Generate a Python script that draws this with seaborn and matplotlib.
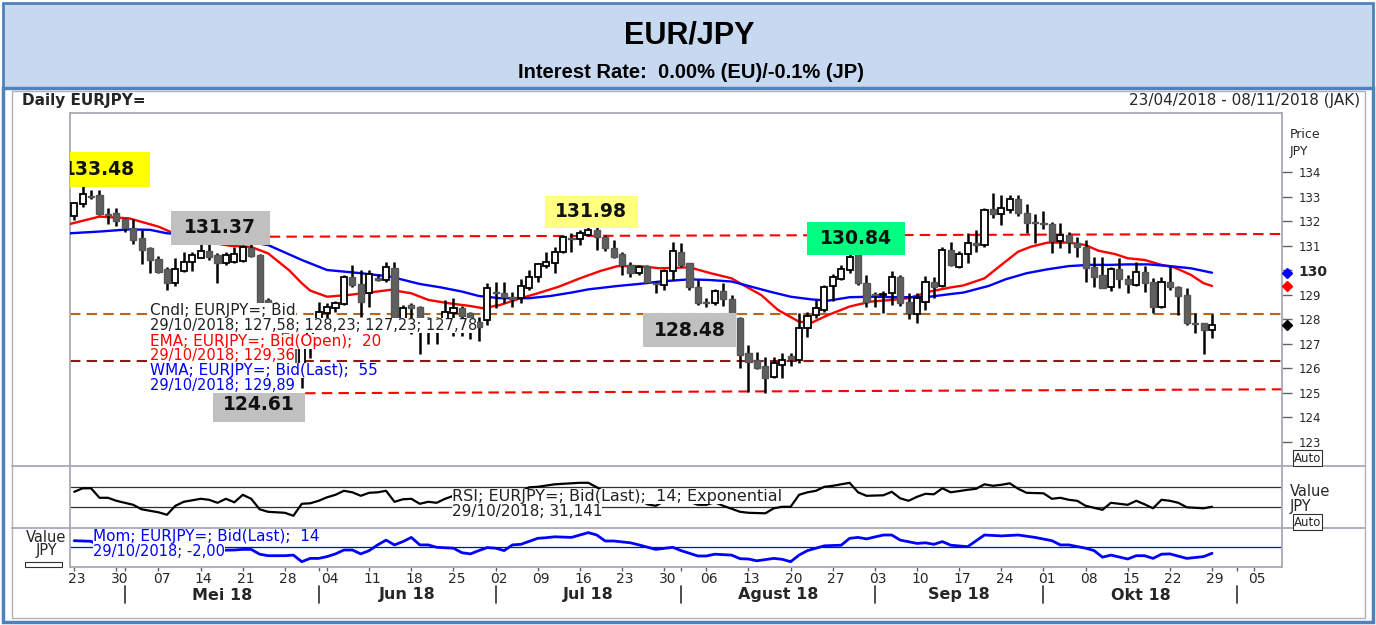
import numpy as np
import pandas as pd
import matplotlib
matplotlib.use('Agg')
import matplotlib.pyplot as plt
import matplotlib.transforms as mtransforms
from matplotlib.patches import Rectangle
from matplotlib.lines import Line2D
import seaborn as sns

W, H = 1376, 625

# daily candles, trading-day index 0 = Monday 23/04/2018
opens = [132.22, 132.71, 133.05, 133.06, 132.30, 132.33, 132.08, 131.74, 131.30, 130.90,
         130.45, 130.04, 129.47, 129.98, 130.35, 130.49, 130.80, 130.62, 130.31, 130.35,
         130.39, 130.90, 130.62, 128.79, 128.60, 127.90, 127.20, 125.90, 126.90, 127.60,
         128.24, 128.45, 128.63, 129.74, 129.44, 129.09, 129.70, 129.60, 130.08, 127.95,
         128.60, 128.50, 127.90, 127.50, 127.90, 128.27, 128.47, 128.24, 127.90, 127.97,
         129.13, 129.06, 128.92, 128.86, 129.26, 129.71, 130.17, 130.28, 130.76, 131.32,
         131.26, 131.44, 131.65, 131.35, 130.90, 130.66, 130.22, 129.90, 130.17, 129.50,
         129.40, 129.98, 130.76, 130.28, 129.30, 128.70, 128.68, 129.17, 128.81, 128.04,
         126.64, 126.34, 126.09, 125.63, 126.13, 126.50, 126.34, 127.63, 128.18, 128.38,
         129.36, 129.64, 130.01, 130.66, 129.49, 129.03, 129.00, 129.09, 129.71, 128.72,
         128.22, 128.70, 129.54, 129.36, 130.83, 130.12, 130.66, 131.13, 131.03, 132.49,
         132.28, 132.46, 132.90, 132.33, 131.96, 131.94, 131.89, 131.21, 131.44, 131.10,
         130.96, 130.12, 129.81, 129.30, 130.04, 129.63, 129.40, 129.92, 129.54, 128.49,
         129.54, 129.33, 128.99, 127.86, 127.84, 127.58]
highs = [132.80, 133.45, 133.28, 133.28, 132.53, 132.53, 132.12, 132.08, 131.65, 130.96,
         130.58, 130.12, 130.49, 130.76, 130.76, 131.10, 131.10, 130.69, 130.76, 130.96,
         131.03, 131.10, 130.66, 128.85, 128.70, 128.00, 127.30, 127.20, 127.70, 128.70,
         128.68, 128.75, 129.80, 130.22, 130.01, 130.01, 129.85, 130.35, 130.35, 128.60,
         128.65, 128.55, 128.10, 128.10, 128.80, 128.86, 128.55, 128.30, 128.10, 129.47,
         129.54, 129.54, 129.10, 129.63, 130.01, 130.31, 130.76, 130.96, 131.44, 131.51,
         131.65, 131.90, 131.98, 131.44, 131.24, 130.76, 130.35, 130.22, 130.22, 129.55,
         130.04, 131.17, 131.13, 130.30, 129.60, 128.85, 129.22, 129.47, 129.00, 128.11,
         126.95, 126.65, 126.47, 126.47, 126.61, 126.61, 128.24, 128.31, 128.79, 129.40,
         129.85, 130.22, 130.84, 130.76, 129.81, 129.13, 129.17, 129.98, 129.80, 129.06,
         129.06, 129.77, 129.74, 130.96, 131.17, 130.80, 131.51, 131.65, 132.53, 133.14,
         133.07, 133.07, 133.07, 132.71, 132.30, 132.43, 131.98, 131.94, 131.55, 131.34,
         131.24, 130.53, 130.53, 130.12, 130.49, 129.81, 130.35, 130.18, 129.68, 129.71,
         130.17, 129.36, 129.26, 128.24, 127.86, 128.23]
lows = [132.05, 132.57, 132.90, 132.26, 131.89, 131.82, 131.58, 131.07, 130.26, 129.88,
        129.88, 129.20, 129.36, 129.94, 129.98, 130.49, 130.42, 129.47, 130.22, 130.28,
        130.35, 130.56, 128.65, 128.20, 127.70, 126.90, 124.61, 125.20, 126.40, 127.50,
        127.97, 128.30, 128.60, 129.33, 128.11, 128.52, 129.55, 129.54, 127.80, 127.50,
        127.40, 126.60, 127.00, 127.00, 127.50, 127.30, 127.30, 127.20, 127.10, 127.77,
        128.45, 128.65, 128.50, 128.65, 129.20, 129.54, 130.08, 129.88, 130.69, 130.76,
        131.03, 131.40, 130.83, 130.80, 130.49, 129.81, 129.74, 129.80, 129.47, 129.09,
        129.20, 129.60, 130.12, 129.20, 128.60, 128.48, 128.60, 128.54, 128.00, 126.00,
        125.05, 125.95, 124.98, 125.59, 125.59, 126.10, 126.20, 127.29, 128.04, 128.31,
        128.76, 129.60, 129.90, 129.40, 128.52, 128.52, 128.27, 128.58, 128.55, 128.00,
        127.84, 128.38, 128.85, 129.30, 130.18, 130.08, 130.28, 130.76, 130.94, 132.12,
        131.85, 132.35, 132.22, 131.54, 131.13, 131.70, 130.69, 130.90, 130.69, 130.55,
        129.54, 129.30, 129.26, 129.17, 129.26, 129.09, 129.36, 129.13, 128.27, 128.45,
        129.20, 128.17, 127.77, 127.45, 126.58, 127.23]
closes = [132.73, 133.11, 133.01, 132.30, 132.26, 132.03, 131.71, 131.24, 130.83, 130.42,
          129.94, 129.47, 130.04, 130.35, 130.62, 130.80, 130.56, 130.31, 130.62, 130.66,
          130.96, 130.58, 128.68, 128.68, 127.90, 127.20, 125.90, 126.90, 127.50, 128.30,
          128.49, 128.68, 129.74, 129.40, 128.72, 129.85, 129.62, 130.12, 127.95, 128.45,
          128.45, 127.90, 127.60, 127.90, 128.30, 128.47, 128.13, 128.00, 127.70, 129.26,
          129.06, 128.92, 128.82, 129.36, 129.71, 130.26, 130.35, 130.76, 131.35, 131.28,
          131.51, 131.65, 131.35, 130.90, 130.56, 130.22, 129.88, 130.12, 129.54, 129.45,
          129.98, 130.80, 130.22, 129.30, 128.68, 128.66, 129.17, 128.81, 128.04, 126.54,
          126.27, 126.00, 125.59, 126.20, 126.34, 126.37, 127.63, 128.14, 128.45, 129.30,
          129.71, 130.04, 130.56, 129.49, 128.72, 129.00, 129.05, 129.71, 128.68, 128.27,
          128.86, 129.54, 129.33, 130.83, 130.22, 130.66, 131.10, 131.03, 132.46, 132.28,
          132.53, 132.90, 132.33, 131.92, 131.92, 131.88, 131.21, 131.44, 131.17, 130.96,
          130.08, 129.74, 129.26, 130.04, 129.63, 129.44, 129.92, 129.50, 128.49, 129.54,
          129.33, 128.95, 127.84, 127.82, 127.56, 127.78]

# EMA(20, open) and WMA(55)
ema_day = [-0.5, 3, 6.5, 10, 12, 15, 18.5, 21, 23, 25.5, 27, 28, 30, 32.5, 35, 37.5, 40, 42,
           44.5, 47, 48.5, 50.5, 53, 55, 57.5, 60, 62.5, 64.5, 67, 69.5, 73, 75.5, 78, 79,
           81.5, 83.5, 86, 87.5, 89.5, 92, 94.5, 97, 99, 101.5, 104, 105.5, 108, 110, 112,
           113.5, 115.5, 118, 120, 121.5, 123.5, 125, 127, 129, 130.5, 132.5, 134, 135]
ema_val = [131.89, 132.19, 132.12, 131.78, 131.48, 131.20, 131.00, 130.95, 130.69, 130.00,
           129.47, 129.17, 128.92, 128.99, 129.09, 129.20, 129.06, 128.79, 128.65, 128.54,
           128.45, 128.58, 128.86, 129.06, 129.33, 129.67, 129.98, 130.17, 130.17, 130.08,
           130.12, 129.88, 129.67, 129.47, 128.99, 128.38, 127.90, 127.86, 128.18, 128.52,
           128.72, 128.79, 128.86, 129.13, 129.30, 129.38, 129.67, 130.22, 130.76, 130.96,
           131.13, 131.13, 131.03, 130.80, 130.66, 130.49, 130.42, 130.22, 130.12, 129.81,
           129.47, 129.36]
wma_day = [-0.5, 3, 6.5, 9, 11, 15, 19, 23, 27, 30, 34, 37.5, 41, 43.5, 46, 48, 50.5, 54,
           56.5, 59, 61, 64.5, 67, 69.5, 73, 75.5, 78, 80, 82.5, 85, 87.5, 89.5, 92, 94.5,
           97, 99, 101.5, 104, 105.5, 108.5, 110.5, 113, 115.5, 118, 120.5, 123, 125, 127.5,
           130, 132.5, 135]
wma_val = [131.51, 131.58, 131.67, 131.65, 131.51, 131.40, 131.25, 131.03, 130.42, 130.01,
           129.88, 129.74, 129.44, 129.30, 129.13, 128.95, 128.86, 128.86, 128.95, 129.09,
           129.22, 129.36, 129.44, 129.54, 129.63, 129.60, 129.54, 129.36, 129.13, 128.92,
           128.81, 128.76, 128.90, 128.92, 128.90, 128.90, 128.92, 129.03, 129.09, 129.36,
           129.63, 129.88, 130.04, 130.17, 130.22, 130.22, 130.24, 130.24, 130.17, 130.08,
           129.90]

rsi_day = [0, 1, 2, 3, 4, 5, 7, 8, 10, 11, 12, 13, 15, 16, 17, 18, 19, 20, 21, 22, 23, 25,
           26, 27, 28, 29, 30, 31, 32, 33, 34, 35, 36, 37, 38, 39, 40, 41, 42, 43, 44, 45,
           46, 47, 48, 49, 50, 51, 52, 53, 54, 55, 57, 58, 60, 61, 62, 63, 64, 65, 66, 67,
           68, 69, 70, 71, 72, 73, 74, 75, 76, 77, 78, 79, 80, 82, 83, 84, 85, 86, 87, 88,
           89, 90, 92, 93, 94, 96, 97, 98, 99, 100, 101, 102, 103, 104, 106, 107, 108, 109,
           110, 111, 112, 113, 115, 116, 117, 118, 119, 120, 122, 123, 125, 126, 127, 128,
           129, 130, 131, 132, 134, 135]
rsi_val = [61, 68, 68, 49, 49, 43, 35, 26, 20, 15, 33, 41, 47, 45, 39, 47, 40, 55, 47, 26,
           21, 19, 13, 37, 38, 43, 50, 55, 63, 60, 53, 59, 60, 63, 41, 46, 47, 37, 41, 39,
           47, 53, 52, 50, 47, 60, 58, 56, 55, 62, 70, 71, 76, 77, 79, 79, 70, 60, 54, 48,
           44, 46, 36, 33, 42, 52, 47, 41, 35, 35, 40, 33, 27, 21, 19, 18, 28, 31, 31, 55,
           60, 63, 71, 73, 79, 60, 53, 54, 61, 48, 43, 51, 57, 56, 68, 60, 65, 67, 76, 73,
           75, 78, 67, 59, 58, 47, 49, 45, 43, 33, 25, 39, 35, 43, 36, 28, 45, 43, 39, 30,
           28, 31.1]

mom_day = [0, 2, 3, 5, 7, 9, 11, 13, 15, 17, 19, 20, 21, 22, 23, 25, 26, 27, 28, 29, 30,
           31, 32, 33, 34, 35, 36, 37, 38, 39, 40, 41, 42, 43, 45, 46, 47, 48, 49, 50, 51,
           52, 53, 55, 56, 57, 59, 60, 61, 62, 63, 64, 66, 67, 69, 71, 72, 74, 75, 76, 78,
           79, 80, 81, 83, 84, 85, 86, 87, 89, 91, 92, 93, 94, 96, 97, 98, 100, 101, 102,
           103, 104, 106, 108, 110, 112, 114, 116, 117, 118, 120, 121, 122, 123, 125, 126,
           127, 128, 129, 130, 132, 134, 135]
mom_val = [2.2, 2.0, 0.5, -1.0, -2.0, -2.5, -2.5, -2.0, -1.5, -1.0, -0.9, -0.7, -0.7, -2.3,
           -2.8, -2.8, -2.6, -4.8, -3.7, -3.7, -3.1, -2.2, -0.9, -0.9, -2.2, -1.1, 0.8, 2.4,
           0.8, 1.9, 3.3, 0.8, 0.8, 0.0, -0.3, -1.8, -2.2, -1.1, -0.1, -0.3, -1.1, 0.8, 1.0,
           3.0, 3.2, 3.5, 3.3, 4.1, 4.9, 4.1, 2.1, 2.1, 1.5, 0.8, -0.7, 0.0, -1.1, -2.9, -2.9,
           -2.3, -2.6, -3.8, -3.9, -4.5, -3.7, -4.0, -4.8, -2.6, -1.1, 0.5, 0.7, 3.0, 3.3, 2.8,
           4.1, 4.1, 2.4, 1.3, 1.5, 1.0, 1.9, 0.7, 0.2, 4.1, 3.8, 4.1, 3.3, 2.2, 0.8, 0.8,
           -0.3, -1.1, -3.3, -2.6, -3.9, -2.8, -2.8, -3.7, -2.3, -2.2, -3.7, -3.1, -2.0]

week_labels = ['23', '30', '07', '14', '21', '28', '04', '11', '18', '25', '02', '09', '16',
               '23', '30', '06', '13', '20', '27', '03', '10', '17', '24', '01', '08', '15',
               '22', '29', '05']
month_names = ['Mei 18', 'Jun 18', 'Jul 18', 'Agust 18', 'Sep 18', 'Okt 18']
month_first_day = [6, 29, 50, 72, 95, 115, 138]

price_ticks = [123, 124, 125, 126, 127, 128, 129, 130, 131, 132, 133, 134]
peak_labels = ['133.48', '131.37', '131.98', '130.84', '128.48', '124.61']

last_close, last_ema, last_wma = 127.78, 129.36, 129.89

# ---------------------------------------------------------------
sns.set_style('white')
plt.rcParams['font.family'] = ['DejaVu Sans']

fig = plt.figure(figsize=(W / 100, H / 100), dpi=100)

# header and frames
fig.add_artist(Rectangle((3 / W, 1 - 88 / H), 1370 / W, 85 / H, transform=fig.transFigure,
                         facecolor='#C6D9F1', edgecolor='#4F81BD', lw=2))
fig.add_artist(Rectangle((3 / W, 1 - 622 / H), 1370 / W, 534 / H, transform=fig.transFigure,
                         facecolor='none', edgecolor='#4F81BD', lw=2.5))
fig.add_artist(Rectangle((12 / W, 1 - 618 / H), 1353 / W, 527 / H, transform=fig.transFigure,
                         facecolor='none', edgecolor='#B0B0B8', lw=1))
fig.text(689 / W, 1 - 35 / H, 'EUR/JPY', ha='center', va='center', fontsize=22,
         fontweight='bold', family=['Liberation Sans', 'DejaVu Sans'], color='black')
fig.text(691 / W, 1 - 73 / H, 'Interest Rate:  0.00% (EU)/-0.1% (JP)', ha='center',
         va='center', fontsize=14.5, fontweight='bold',
         family=['Liberation Sans', 'DejaVu Sans'], color='black')
fig.text(22 / W, 1 - 101 / H, 'Daily EURJPY=', ha='left', va='center', fontsize=11,
         fontweight='bold')
fig.text(1360 / W, 1 - 101 / H, '23/04/2018 - 08/11/2018 (JAK)', ha='right', va='center',
         fontsize=11)

ax = fig.add_axes([70 / W, 1 - 465 / H, 1212 / W, 352 / H])
ax_rsi = fig.add_axes([70 / W, 1 - 527 / H, 1212 / W, 62 / H], sharex=ax)
ax_mom = fig.add_axes([70 / W, 1 - 567 / H, 1212 / W, 40 / H], sharex=ax)

frame_col = '#A8A8B8'
for a in (ax, ax_rsi, ax_mom):
    for s in a.spines.values():
        s.set_color(frame_col)
        s.set_linewidth(1.3)
    a.spines['bottom'].set_visible(False)
    a.set_facecolor('white')
for a in (ax_rsi, ax_mom):
    a.spines['top'].set_visible(False)
ax_mom.spines['bottom'].set_visible(True)

ax.set_xlim(-0.5, 143.3)
ax.set_ylim(122.05, 136.42)
ax_rsi.set_ylim(-9.4, 114.6)
ax_mom.set_ylim(-6.57, 6.77)

# candles
df = pd.DataFrame({'day': np.arange(len(opens)), 'open': opens, 'high': highs,
                   'low': lows, 'close': closes})
up = df['close'] >= df['open']
body_lo = df[['open', 'close']].min(axis=1)
body_h = (df['close'] - df['open']).abs().clip(lower=0.04)
ax.vlines(df['day'], df['low'], df['high'], color='black', lw=1.8, zorder=4)
ax.bar(df.loc[up, 'day'], body_h[up], bottom=body_lo[up], width=0.72, color='white',
       edgecolor='black', lw=1.3, zorder=5)
ax.bar(df.loc[~up, 'day'], body_h[~up], bottom=body_lo[~up], width=0.72, color='#5f5f5f',
       edgecolor='#555555', lw=1.0, zorder=5)

# moving averages
sns.lineplot(x=ema_day, y=ema_val, ax=ax, color='#FF0000', lw=1.7, zorder=3, legend=False)
sns.lineplot(x=wma_day, y=wma_val, ax=ax, color='#0000FF', lw=1.7, zorder=3, legend=False)

# support / resistance lines
dash = (0, (5, 3))
ax.plot([23.2, 143.3], [131.37, 131.48], color='#FF0000', ls=dash, lw=1.5, zorder=2)
ax.axhline(128.21, color='#B8651B', ls=dash, lw=1.5, zorder=2)
ax.axhline(126.30, color='#8B1A1A', ls=dash, lw=1.5, zorder=2)
ax.plot([27.4, 143.3], [124.98, 125.14], color='#FF0000', ls=dash, lw=1.5, zorder=2)

# value boxes
boxes = [(-1.5, 9.0, 133.40, 134.83, '#FFFF00', 3.0, 134.10),
         (11.5, 23.2, 131.03, 132.42, '#C0C0C0', 17.3, 131.73),
         (55.8, 66.9, 131.73, 133.03, '#FFFF80', 61.3, 132.38),
         (86.9, 98.6, 130.62, 131.97, '#00FF80', 92.7, 131.30),
         (67.5, 78.5, 126.87, 128.26, '#C0C0C0', 73.0, 127.56),
         (16.45, 27.4, 123.81, 125.00, '#C0C0C0', 21.9, 124.50)]
for (x0, x1, y0, y1, fc, tx, ty), lab in zip(boxes, peak_labels):
    ax.add_patch(Rectangle((x0, y0), x1 - x0, y1 - y0, facecolor=fc, edgecolor='none',
                           zorder=6))
    ax.text(tx, ty, lab, ha='center', va='center', fontsize=13.5, fontweight='bold',
            color='#111111', zorder=7, clip_on=True)

# legend text block
legend_lines = [('Cndl; EURJPY=; Bid', '#222222', 128.34, 11),
                ('29/10/2018; 127,58; 128,23; 127,23; 127,78', '#222222', 127.73, 10.5),
                ('EMA; EURJPY=; Bid(Open);  20', '#FF0000', 127.11, 11),
                ('29/10/2018; 129,36', '#FF0000', 126.50, 10.5),
                ('WMA; EURJPY=; Bid(Last);  55', '#0000FF', 125.89, 11),
                ('29/10/2018; 129,89', '#0000FF', 125.28, 10.5)]
for txt, col, yy, fs in legend_lines:
    ax.text(8.98, yy, txt, color=col, fontsize=fs, ha='left', va='center', zorder=8,
            bbox=dict(facecolor='white', edgecolor='none', pad=0.0))

# right price axis
ax.yaxis.tick_right()
ax.set_yticks(price_ticks)
ax.set_yticklabels([str(t) for t in price_ticks])
ax.tick_params(axis='y', direction='out', length=7, width=1, color='#606060',
               labelsize=8.5, pad=5)
for lbl in ax.get_yticklabels():
    if lbl.get_text() == '130':
        lbl.set_fontweight('bold')
        lbl.set_fontsize(10)
ax.tick_params(axis='x', bottom=False, labelbottom=False)
ax.set_xlabel('')
ax.set_ylabel('')
for val, col in [(last_wma, '#0000FF'), (last_ema, '#FF0000'), (last_close, 'black')]:
    ax.plot([143.9], [val], marker='D', ms=5, color=col, clip_on=False, zorder=9)

fig.text(1290 / W, 1 - 135 / H, 'Price', fontsize=9, va='center')
fig.text(1290 / W, 1 - 151 / H, 'JPY', fontsize=9, va='center')

def auto_box(x, y, size=8.5):
    fig.text(x / W, 1 - y / H, 'Auto', fontsize=size, va='center', ha='left',
             bbox=dict(facecolor='white', edgecolor='#303030', pad=0.8, lw=0.8))

auto_box(1294, 458)

# RSI panel
ax_rsi.axhline(70, color='#303030', lw=0.9, zorder=1)
ax_rsi.axhline(30, color='#303030', lw=0.9, zorder=1)
sns.lineplot(x=rsi_day, y=rsi_val, ax=ax_rsi, color='black', lw=1.6, zorder=3, legend=False)
ax_rsi.text(44.8, 52.6, 'RSI; EURJPY=; Bid(Last);  14; Exponential', fontsize=11.5,
            ha='left', va='center', color='#222222', zorder=8,
            bbox=dict(facecolor='white', edgecolor='none', pad=0.0))
ax_rsi.text(44.8, 22.6, '29/10/2018; 31,141', fontsize=11, ha='left', va='center',
            color='#222222', zorder=8,
            bbox=dict(facecolor='white', edgecolor='none', pad=0.0))
ax_rsi.set_yticks([])
ax_rsi.tick_params(axis='x', bottom=False, labelbottom=False)
ax_rsi.set_xlabel('')
ax_rsi.set_ylabel('')
fig.text(1290 / W, 1 - 491 / H, 'Value', fontsize=10.5, va='center')
fig.text(1290 / W, 1 - 506 / H, 'JPY', fontsize=10.5, va='center')
auto_box(1294, 522)

# Momentum panel
ax_mom.axhline(0, color='#0000FF', lw=0.9, zorder=1)
sns.lineplot(x=mom_day, y=mom_val, ax=ax_mom, color='#0000FF', lw=2, zorder=3, legend=False)
ax_mom.text(2.23, 3.6, 'Mom; EURJPY=; Bid(Last);  14', fontsize=11, ha='left',
            va='center', color='#0000FF', zorder=8,
            bbox=dict(facecolor='white', edgecolor='none', pad=0.0))
ax_mom.text(2.23, -1.3, '29/10/2018; -2,00', fontsize=10.5, ha='left', va='center',
            color='#0000FF', zorder=8,
            bbox=dict(facecolor='white', edgecolor='none', pad=0.0))
ax_mom.set_yticks([])
ax_mom.set_ylabel('')
fig.text(66 / W, 1 - 537 / H, 'Value', fontsize=10.5, va='center', ha='right')
fig.text(57 / W, 1 - 551 / H, 'JPY', fontsize=10.5, va='center', ha='right')
fig.add_artist(Rectangle((25 / W, 1 - 567 / H), 37 / W, 5 / H, transform=fig.transFigure,
                         facecolor='white', edgecolor='#303030', lw=0.8))

# separators between panels
for yy in (465.5, 527.5):
    fig.add_artist(Line2D([12 / W, 1365 / W], [1 - yy / H] * 2, color=frame_col, lw=1.3))

# date axis
ax_mom.set_xticks(list(range(0, 141, 5)))
ax_mom.set_xticklabels(week_labels)
ax_mom.set_xticks(month_first_day, minor=True)
ax_mom.tick_params(axis='x', which='both', bottom=True, direction='out', length=3,
                   width=1, color='#606060', labelsize=10, pad=0.5)
ax_mom.set_xlabel('')
shift = mtransforms.ScaledTranslation(3 / 100, 0, fig.dpi_scale_trans)
for lbl in ax_mom.get_xticklabels():
    lbl.set_transform(lbl.get_transform() + shift)

trans = mtransforms.blended_transform_factory(ax_mom.transData, fig.transFigure)
for d in month_first_day:
    fig.add_artist(Line2D([d, d], [1 - 586 / H, 1 - 603 / H], transform=trans,
                          color='#303030', lw=1.2))
for k, name in enumerate(month_names):
    mid = (month_first_day[k] + month_first_day[k + 1]) / 2
    fig.text(mid, 1 - 595 / H, name, transform=trans, ha='center', va='center',
             fontsize=11.5, fontweight='bold')

fig.savefig('out.png', dpi=100)
